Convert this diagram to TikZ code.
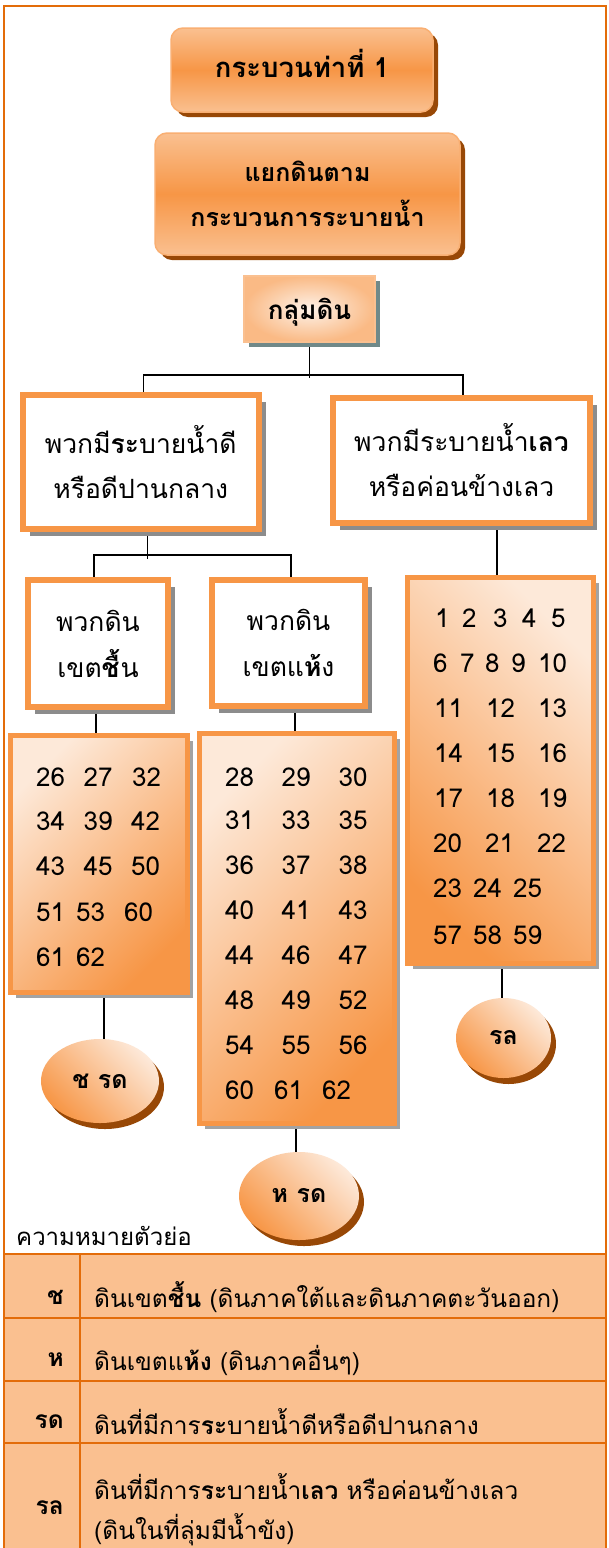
\documentclass[tikz,border=0pt]{standalone}
\usepackage{fontspec}
\newfontfamily\thai[Script=Thai]{Loma}
\usetikzlibrary{shadows,shapes.geometric,backgrounds}
\definecolor{org}{HTML}{F79646}
\definecolor{lor}{HTML}{FAC090}
\definecolor{pch}{HTML}{FDE9D9}
\definecolor{brn}{HTML}{984806}
\definecolor{frm}{HTML}{E36C09}
\definecolor{tabfill}{HTML}{FAC090}
\definecolor{shgray}{HTML}{8C8C8C}
\tikzset{
  headbox/.style={draw=lor!60!org, line width=1.5pt, rounded corners=12pt,
    top color=lor, bottom color=lor, middle color=org, align=center, inner sep=0pt,
    drop shadow={shadow xshift=5pt, shadow yshift=-5pt, fill=brn, opacity=1}},
  grpbox/.style={draw=lor, line width=1.2pt, shading=radial, inner color=pch!60!white, outer color=lor!85!org, inner sep=0pt,
    drop shadow={shadow xshift=5pt, shadow yshift=-5pt, fill=shgray!80!teal, opacity=1}},
  whitebox/.style={draw=org, line width=6pt, fill=white, align=center, inner sep=0pt,
    drop shadow={shadow xshift=7pt, shadow yshift=-7pt, fill=shgray, opacity=1}},
  numbox/.style={draw=org, line width=5pt, inner sep=0pt,
    drop shadow={shadow xshift=6pt, shadow yshift=-6pt, fill=shgray!80, opacity=1}},
  oval/.style={ellipse, inner sep=0pt, top color=pch, bottom color=org, shading angle=-45,
    drop shadow={shadow xshift=5pt, shadow yshift=-6pt, fill=brn, opacity=1}},
  num/.style={anchor=west, inner sep=0pt, font=\thai\fontsize{26}{28}\selectfont},
  conn/.style={draw=black, line width=1.3pt},
  tabtxt/.style={anchor=west, inner sep=0pt, font=\thai\fontsize{24.5}{28}\selectfont},
  tablbl/.style={anchor=east, inner sep=0pt, font=\thai\bfseries\fontsize{24.5}{28}\selectfont},
}
\begin{document}
\begin{tikzpicture}[x=1pt,y=-1pt]
\useasboundingbox (0,0) rectangle (609,1548);
% frame
\draw[frm, line width=2pt] (4,1548) -- (4,6) -- (606,6) -- (606,1548);

% headings
\node[headbox, minimum width=262pt, minimum height=84pt, text height=20pt, text depth=6pt, font=\thai\bfseries\fontsize{27.5}{30}\selectfont] (t1) at (302,70) {กระบวนท่าที่ 1};
\node[headbox, minimum width=305pt, minimum height=122pt, font=\thai\bfseries\fontsize{25}{45}\selectfont] (t2) at (307.5,194) {แยกดินตาม\\กระบวนการระบายน้ำ};
\node[grpbox, minimum width=131pt, minimum height=66pt, text height=25pt, text depth=4pt, font=\thai\bfseries\fontsize{26}{28}\selectfont] (g) at (309.5,309) {กลุ่มดิน};

% level 2
\node[whitebox, minimum width=236pt, minimum height=134pt, font=\thai\fontsize{26.5}{45}\selectfont] (a) at (140.75,462) {พวกมี\textbf{ระ}บายน้ำดี\\หรือดีปานกลาง};
\node[whitebox, minimum width=257pt, minimum height=125pt, font=\thai\fontsize{26.5}{45}\selectfont] (b) at (461.5,460.5) {พวกมีระบายน้ำ\textbf{เลว}\\หรือค่อนข้างเลว};

% level 3
\node[whitebox, minimum width=140pt, minimum height=127pt, font=\thai\fontsize{26.5}{46}\selectfont] (c) at (98,643.5) {พวกดิน\\เขต\textbf{ชื้}น};
\node[whitebox, minimum width=153pt, minimum height=126pt, font=\thai\fontsize{26.5}{46}\selectfont] (d) at (288.5,643) {พวกดิน\\เขตแ\textbf{ห้}ง};

% number boxes
\node[numbox, minimum width=177pt, minimum height=257pt, top color=pch, bottom color=org, shading angle=45] (nL) at (98.5,863.5) {};
\node[numbox, minimum width=195pt, minimum height=390pt, top color=pch, bottom color=org, shading angle=45] (nM) at (296.5,928) {};
\node[numbox, minimum width=186pt, minimum height=386pt, top color=pch, bottom color=org, shading angle=-45] (nR) at (500,770) {};

\foreach \t/\x/\y [count=\i] in {26/36/777, 27/83.5/777, 32/132/777,
  34/36/821, 39/83.5/821, 42/131/821,
  43/36/866, 45/83.5/866, 50/131/866,
  51/36/912, 53/76/912, 60/124/912,
  61/36/957, 62/76/957}
  \node[num] (l\i) at (\x,\y) {\t};

\foreach \t/\x/\y [count=\i] in {28/225/777, 29/281.5/777, 30/338.5/777,
  31/225/820, 33/281.5/820, 35/338.5/820,
  36/225/865, 37/281.5/865, 38/338.5/865,
  40/225/910, 41/281.5/910, 43/338.5/910,
  44/225/955, 46/281.5/955, 47/338.5/955,
  48/225/1000, 49/281.5/1000, 52/338.5/1000,
  54/225/1045, 55/281.5/1045, 56/338.5/1045,
  60/225/1090, 61/274/1090, 62/322/1090}
  \node[num] (m\i) at (\x,\y) {\t};

\foreach \t/\x/\y [count=\i] in {1/435/618, 2/462/618, 3/493/618, 4/522/618, 5/551/618,
  6/433/663, 7/460/663, 8/485/663, 9/511/663, 10/538/663,
  11/434/708, 12/486/708, 13/538/708,
  14/434/753, 15/486/753, 16/538/753,
  17/434/798, 18/486/798, 19/538/798,
  20/433/843, 21/485/843, 22/537/843,
  23/433/888, 24/473/888, 25/513/888,
  57/433/935, 58/473/935, 59/513/935}
  \node[num] (r\i) at (\x,\y) {\t};

% ovals
\node[oval, minimum width=118pt, minimum height=84pt, font=\thai\bfseries\fontsize{25}{28}\selectfont] (e1) at (100,1081) {ช รด};
\node[oval, minimum width=120pt, minimum height=88pt, font=\thai\bfseries\fontsize{25}{28}\selectfont] (e2) at (299,1196) {ห รด};
\node[oval, minimum width=95pt, minimum height=80pt, font=\thai\bfseries\fontsize{25}{28}\selectfont] (e3) at (503.5,1038) {รล};

% connectors
\begin{scope}[on background layer]
\fill[white] (0,0) rectangle (609,1548);
\draw[conn] (g.south) -- (g.south |- 0,378);
\draw[conn] ([xshift=3pt]a.north) -- ++(0,-17) -| ([xshift=1.5pt]b.north);
\draw[conn] ([xshift=7pt]a.south) -- ++(0,27);
\draw[conn] ([xshift=-4pt]c.north) -- ++(0,-22) -| ([xshift=2.5pt]d.north);
\draw[conn] (nR.north -| 497,0) -- (b.south -| 497,0);
\draw[conn] (nL.north -| 96,0) -- (c.south -| 96,0);
\draw[conn] (nM.north -| 295,0) -- (d.south -| 295,0);
\draw[conn] (e1.north -| 104,0) -- (nL.south -| 104,0);
\draw[conn] (e2.north -| 296,0) -- (nM.south -| 296,0);
\draw[conn] (e3.north -| 502,0) -- (nR.south -| 502,0);
\end{scope}

% legend
\node[anchor=west, inner sep=0pt, font=\thai\fontsize{24}{28}\selectfont] (leg) at (16,1236) {ความหมายตัวย่อ};
\fill[tabfill] (4,1254) rectangle (606,1548);
\draw[frm, line width=2pt] (4,1254) -- (606,1254);
\draw[frm, line width=2pt] (4,1318) -- (606,1318);
\draw[frm, line width=2pt] (4,1381) -- (606,1381);
\draw[frm, line width=2pt] (4,1443) -- (606,1443);
\draw[frm, line width=2pt] (80,1254) -- (80,1548);
\draw[frm, line width=2pt] (4,1254) -- (4,1548);
\draw[frm, line width=2pt] (606,1254) -- (606,1548);

\node[tablbl] (k1) at (64,1297) {ช};
\node[tablbl] (k2) at (64,1360) {ห};
\node[tablbl] (k3) at (64,1422) {รด};
\node[tablbl] (k4) at (64,1508) {รล};
\node[tabtxt] (v1) at (94,1297) {ดินเขต\textbf{ชื้น} (ดินภาคใต้และดินภาคตะวันออก)};
\node[tabtxt] (v2) at (94,1360) {ดินเขตแ\textbf{ห้ง} (ดินภาคอื่นๆ)};
\node[tabtxt] (v3) at (94,1422) {ดินที่มีการ\textbf{ระ}บายน้ำดีหรือดีปานกลาง};
\node[tabtxt] (v4) at (94,1487) {ดินที่มีการ\textbf{ระ}บายน้ำ\textbf{เลว} หรือค่อนข้างเลว};
\node[tabtxt] (v5) at (94,1530) {(ดินในที่ลุ่มมีน้ำขัง)};
\end{tikzpicture}
\end{document}
